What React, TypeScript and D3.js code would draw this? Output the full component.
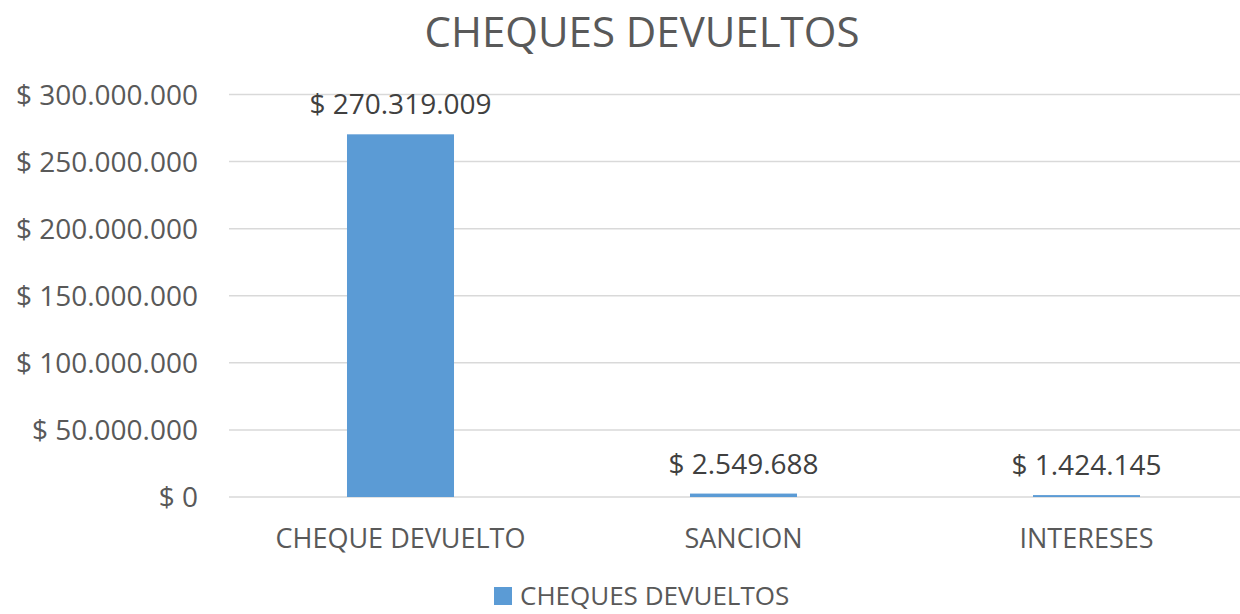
import React from 'react';
import * as d3 from 'd3';

const categories = ['CHEQUE DEVUELTO', 'SANCION', 'INTERESES'];
const values = [270319009, 2549688, 1424145];
const yTicks = [0, 50000000, 100000000, 150000000, 200000000, 250000000, 300000000];
const seriesName = 'CHEQUES DEVUELTOS';
const title = 'CHEQUES DEVUELTOS';

const width = 1240;
const height = 614;
const font = '"Open Sans", sans-serif';

const locale = d3.formatLocale({
  decimal: ',',
  thousands: '.',
  grouping: [3],
  currency: ['$ ', ''],
});
const money = (v: number) => '$ ' + locale.format(',.0f')(v);

function App() {
  const svgRef = React.useRef<SVGSVGElement>(null);

  React.useEffect(() => {
    const svg = d3.select(svgRef.current);
    svg.selectAll('*').remove();

    // plot area runs past the right edge of the picture (chart is cropped)
    const xScale = d3
      .scaleBand()
      .domain(categories)
      .range([229, 1258])
      .paddingInner(0.688)
      .paddingOuter(0.344);

    const yScale = d3.scaleLinear().domain([0, 300000000]).range([497, 94.5]);

    svg
      .append('rect')
      .attr('width', width)
      .attr('height', height)
      .attr('fill', '#ffffff');

    // Title
    svg
      .append('text')
      .attr('x', 642)
      .attr('y', 47)
      .attr('text-anchor', 'middle')
      .attr('font-family', font)
      .attr('font-size', 42)
      .attr('fill', '#595959')
      .text(title);

    // Grid lines
    svg
      .selectAll('.grid')
      .data(yTicks)
      .enter()
      .append('line')
      .attr('x1', 229)
      .attr('x2', 1258)
      .attr('y1', (d) => yScale(d))
      .attr('y2', (d) => yScale(d))
      .attr('stroke', '#d9d9d9')
      .attr('stroke-width', 1.5);

    // Y tick labels
    svg
      .selectAll('.ytick')
      .data(yTicks)
      .enter()
      .append('text')
      .attr('x', 198)
      .attr('y', (d) => yScale(d) + 10)
      .attr('text-anchor', 'end')
      .attr('font-family', font)
      .attr('font-size', 28)
      .attr('fill', '#595959')
      .text((d) => money(d));

    // Bars
    svg
      .selectAll('.bar')
      .data(values)
      .enter()
      .append('rect')
      .attr('x', (d, i) => xScale(categories[i]) as number)
      .attr('y', (d) => yScale(d))
      .attr('width', xScale.bandwidth())
      .attr('height', (d) => yScale(0) - yScale(d))
      .attr('fill', '#5b9bd5');

    // Data labels
    svg
      .selectAll('.label')
      .data(values)
      .enter()
      .append('text')
      .attr('x', (d, i) => (xScale(categories[i]) as number) + xScale.bandwidth() / 2)
      .attr('y', (d) => yScale(d) - 20)
      .attr('text-anchor', 'middle')
      .attr('font-family', font)
      .attr('font-size', 28)
      .attr('fill', '#404040')
      .text((d) => money(d));

    // Category labels
    svg
      .selectAll('.cat')
      .data(categories)
      .enter()
      .append('text')
      .attr('x', (d) => (xScale(d) as number) + xScale.bandwidth() / 2)
      .attr('y', 548)
      .attr('text-anchor', 'middle')
      .attr('font-family', font)
      .attr('font-size', 27)
      .attr('fill', '#595959')
      .text((d) => d);

    // Legend
    svg
      .append('rect')
      .attr('x', 494)
      .attr('y', 587)
      .attr('width', 18)
      .attr('height', 18)
      .attr('fill', '#5b9bd5');

    svg
      .append('text')
      .attr('x', 520)
      .attr('y', 605)
      .attr('font-family', font)
      .attr('font-size', 26)
      .attr('fill', '#595959')
      .text(seriesName);
  }, []);

  return (
    <svg
      ref={svgRef}
      width={width}
      height={height}
      style={{ position: 'absolute', left: 0, top: 0 }}
    ></svg>
  );
}

export default App;
